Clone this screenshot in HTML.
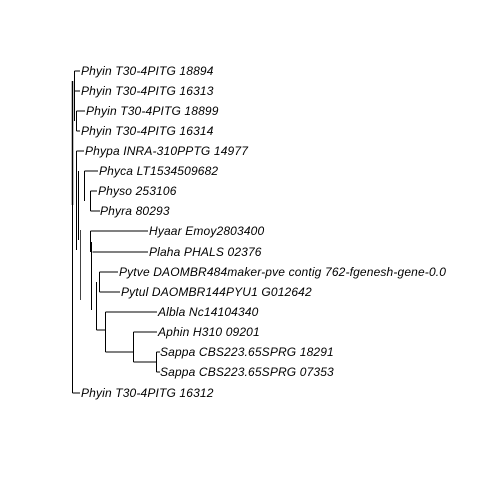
<!DOCTYPE html>
<html><head><style>
body{margin:0;background:#fff}
svg text{font-family:"Liberation Sans",sans-serif;font-style:italic;font-size:12px;letter-spacing:0.15px;fill:#000}
</style></head><body>
<svg width="480" height="480" viewBox="0 0 480 480" xmlns="http://www.w3.org/2000/svg">
<g stroke="#000" stroke-width="1" fill="none">
<path d="M72.5 140V393M72.5 393H80"/>
<path d="M72.5 81V205" stroke-width="1.5"/>
<path d="M74.5 71V91M74.5 71H80M74.5 91H80"/>
<path d="M76.5 111V131M76.5 111H85M76.5 131H80"/>
<path d="M74.5 81V121"/>
<path d="M76.5 151V250M76.5 151H84"/>
<path d="M78.5 171V240"/>
<path d="M84.5 171H98M84.5 171V201"/>
<path d="M90.5 191V211M90.5 191H97M90.5 211H100"/>
<path d="M80.5 230V300" stroke="#444"/>
<path d="M90.5 231V252M90.5 231H148M92.5 252H148"/>
<path d="M91.5 242V310"/>
<path d="M99.5 272V292M99.5 272H118M99.5 292H120"/>
<path d="M96.5 282V330M96.5 330H105"/>
<path d="M105.5 312V352M105.5 312H157M105.5 352H133"/>
<path d="M133.5 332V362M133.5 332H157M133.5 362H156"/>
<path d="M156.5 352V372M156.5 352H160M156.5 372H160"/>
</g>
<text x="81" y="75">Phyin T30-4PITG 18894</text>
<text x="81" y="95">Phyin T30-4PITG 16313</text>
<text x="86" y="115">Phyin T30-4PITG 18899</text>
<text x="81" y="135">Phyin T30-4PITG 16314</text>
<text x="85" y="155">Phypa INRA-310PPTG 14977</text>
<text x="99" y="175">Phyca LT1534509682</text>
<text x="98" y="195">Physo 253106</text>
<text x="100" y="215">Phyra 80293</text>
<text x="149" y="235">Hyaar Emoy2803400</text>
<text x="149" y="256">Plaha PHALS 02376</text>
<text x="119" y="276">Pytve DAOMBR484maker-pve contig 762-fgenesh-gene-0.0</text>
<text x="121" y="296">Pytul DAOMBR144PYU1 G012642</text>
<text x="158" y="316">Albla Nc14104340</text>
<text x="158" y="336">Aphin H310 09201</text>
<text x="160" y="356">Sappa CBS223.65SPRG 18291</text>
<text x="160" y="376">Sappa CBS223.65SPRG 07353</text>
<text x="81" y="397">Phyin T30-4PITG 16312</text>
</svg>
</body></html>
